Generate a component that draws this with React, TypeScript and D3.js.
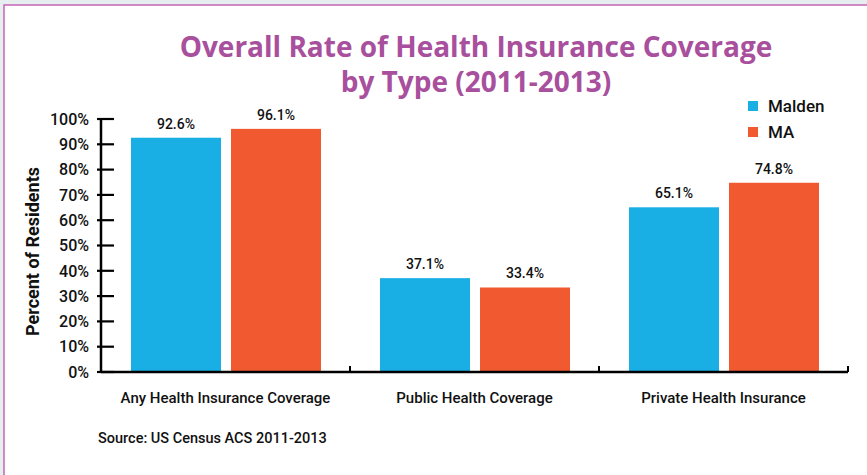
import { useEffect, useRef } from 'react';
import * as d3 from 'd3';

const categories = ['Any Health Insurance Coverage', 'Public Health Coverage', 'Private Health Insurance'];
const seriesNames = ['Malden', 'MA'];
const maldenValues = [92.6, 37.1, 65.1];
const maValues = [96.1, 33.4, 74.8];
const yTicks = [0, 10, 20, 30, 40, 50, 60, 70, 80, 90, 100];
const colors = ['#19aee4', '#f15a31'];

const narrow = 'Roboto, "Liberation Sans", sans-serif';

const App = () => {
  const svgRef = useRef<SVGSVGElement>(null);
  const width = 867;
  const height = 475;

  useEffect(() => {
    if (!svgRef.current) return;
    const svg = d3.select(svgRef.current);
    svg.selectAll('*').remove();

    // Frame
    svg.append('rect').attr('x', 0).attr('y', 0).attr('width', width).attr('height', height).attr('fill', '#e6eef0');
    svg.append('rect').attr('x', 4).attr('y', 5).attr('width', width + 10).attr('height', height + 10)
      .attr('fill', '#ffffff').attr('stroke', '#c565b6').attr('stroke-width', 1.5);

    const margin = { top: 119, left: 101, right: 19, bottom: 103 };
    const innerWidth = width - margin.left - margin.right;
    const innerHeight = height - margin.top - margin.bottom;

    const g = svg.append('g').attr('transform', `translate(${margin.left},${margin.top})`);

    const x0 = d3.scaleBand().domain(categories).range([0, innerWidth]).paddingInner(0).paddingOuter(0);
    const x1 = d3.scaleBand().domain(seriesNames).range([30, x0.bandwidth() - 29]).paddingInner(0.1);
    const y = d3.scaleLinear().domain([0, 100]).range([innerHeight, 0]);

    const rows = categories.map((c, i) => ({ category: c, values: [maldenValues[i], maValues[i]] }));

    // Bars
    const groups = g.selectAll('.grp').data(rows).join('g')
      .attr('class', 'grp')
      .attr('transform', d => `translate(${x0(d.category)},0)`);

    groups.selectAll('rect')
      .data(d => d.values.map((v, i) => ({ name: seriesNames[i], value: v, idx: i })))
      .join('rect')
      .attr('x', d => x1(d.name) || 0)
      .attr('y', d => y(d.value))
      .attr('width', x1.bandwidth())
      .attr('height', d => innerHeight - y(d.value))
      .attr('fill', d => colors[d.idx]);

    groups.selectAll('text')
      .data(d => d.values.map((v, i) => ({ name: seriesNames[i], value: v })))
      .join('text')
      .attr('x', d => (x1(d.name) || 0) + x1.bandwidth() / 2)
      .attr('y', d => y(d.value) - 9)
      .attr('text-anchor', 'middle')
      .style('font-family', narrow)
      .style('font-weight', 500)
      .style('font-size', '14px')
      .style('fill', '#111')
      .text(d => `${d.value.toFixed(1)}%`);

    // Y axis
    g.append('line').attr('x1', 0).attr('x2', 0).attr('y1', y(100)).attr('y2', innerHeight)
      .attr('stroke', '#000').attr('stroke-width', 2.5);
    g.selectAll('.ytick').data(yTicks).join('line')
      .attr('class', 'ytick')
      .attr('x1', -4).attr('x2', 13)
      .attr('y1', d => y(d)).attr('y2', d => y(d))
      .attr('stroke', '#000').attr('stroke-width', 2.2);
    g.selectAll('.ylab').data(yTicks).join('text')
      .attr('class', 'ylab')
      .attr('x', -12)
      .attr('y', d => y(d))
      .attr('dy', '0.36em')
      .attr('text-anchor', 'end')
      .style('font-family', narrow)
      .style('font-weight', 500)
      .style('font-size', '16px')
      .style('fill', '#111')
      .text(d => `${d}%`);

    // X axis
    g.append('line').attr('x1', 0).attr('x2', innerWidth).attr('y1', innerHeight).attr('y2', innerHeight)
      .attr('stroke', '#000').attr('stroke-width', 2.5);
    g.selectAll('.xtick').data(categories).join('line')
      .attr('class', 'xtick')
      .attr('x1', d => (x0(d) || 0) + x0.bandwidth()).attr('x2', d => (x0(d) || 0) + x0.bandwidth())
      .attr('y1', innerHeight - 6).attr('y2', innerHeight)
      .attr('stroke', '#000').attr('stroke-width', 2);
    g.selectAll('.xlab').data(categories).join('text')
      .attr('class', 'xlab')
      .attr('x', d => (x0(d) || 0) + x0.bandwidth() / 2)
      .attr('y', innerHeight + 31)
      .attr('text-anchor', 'middle')
      .style('font-family', narrow)
      .style('font-weight', 500)
      .style('font-size', '15px')
      .style('fill', '#111')
      .text(d => d);

    // Y axis title
    svg.append('text')
      .attr('transform', `translate(39,${margin.top + innerHeight / 2 + 6}) rotate(-90)`)
      .attr('text-anchor', 'middle')
      .style('font-family', narrow)
      .style('font-weight', 'bold')
      .style('font-size', '18px')
      .style('fill', '#111')
      .text('Percent of Residents');

    // Title
    const titleStyle = (sel: d3.Selection<SVGTextElement, unknown, null, undefined>) => sel
      .attr('text-anchor', 'middle')
      .style('font-family', '"Open Sans", Lato, sans-serif')
      .style('font-weight', 'bold')
      .style('font-size', '28px')
      .style('fill', '#a84f9d');
    svg.append('text').attr('x', 476).attr('y', 57).call(titleStyle).text('Overall Rate of Health Insurance Coverage');
    svg.append('text').attr('x', 476).attr('y', 92).call(titleStyle).text('by Type (2011-2013)');

    // Legend
    const legend = svg.append('g').attr('transform', 'translate(748,101)');
    seriesNames.forEach((name, i) => {
      legend.append('rect').attr('x', 0).attr('y', i * 26).attr('width', 10).attr('height', 10).attr('fill', colors[i]);
      legend.append('text').attr('x', 20).attr('y', i * 26 + 5).attr('dy', '0.36em')
        .style('font-family', narrow)
        .style('font-weight', 500)
        .style('font-size', '17px')
        .style('fill', '#111')
        .text(name);
    });

    // Source
    svg.append('text')
      .attr('x', 98).attr('y', 443)
      .style('font-family', narrow)
      .style('font-weight', 500)
      .style('font-size', '14.5px')
      .style('fill', '#111')
      .text('Source: US Census ACS 2011-2013');
  }, []);

  return (
    <div style={{ position: 'absolute', left: 0, top: 0 }}>
      <svg ref={svgRef} width={width} height={height} style={{ display: 'block' }} />
    </div>
  );
};

export default App;
